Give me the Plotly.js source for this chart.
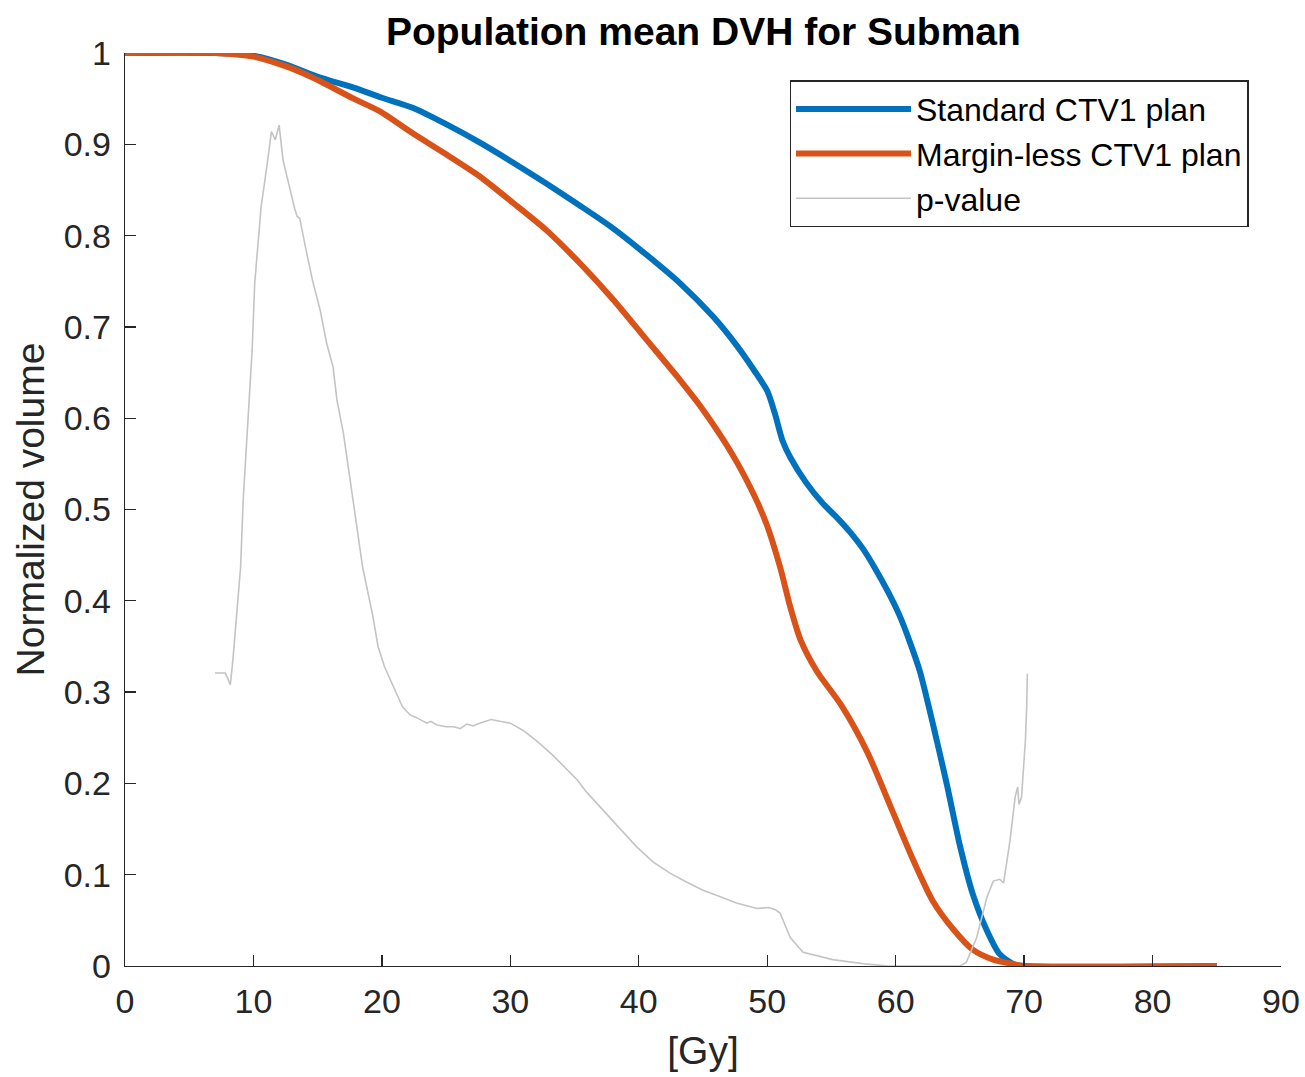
<!DOCTYPE html>
<html>
<head>
<meta charset="utf-8">
<script src="https://cdn.plot.ly/plotly-3.0.1.min.js"></script>
<style>
  html, body { margin: 0; padding: 0; background: #ffffff; }
  #chart { width: 1305px; height: 1077px; }
</style>
</head>
<body>
<div id="chart"></div>
<script>
// ---- data ----
var doseStandard = [0, 7, 10, 12.6, 15.2, 17.8, 20, 22.4, 25, 27.6, 30.2, 32.8, 35.4, 38, 40.6, 43.2, 45.8, 47.6, 49, 50, 50.6, 51.2, 51.8, 53, 54.3, 55.3, 56.4, 57.5, 58.5, 59.4, 60.3, 61.1, 61.9, 62.9, 64, 65, 66, 67.1, 68.1, 69.2, 70, 85];
var volStandard  = [1, 1, 0.997, 0.987, 0.973, 0.962, 0.951, 0.940, 0.922, 0.902, 0.880, 0.857, 0.833, 0.808, 0.779, 0.748, 0.711, 0.680, 0.652, 0.630, 0.605, 0.575, 0.557, 0.530, 0.507, 0.493, 0.476, 0.456, 0.433, 0.410, 0.384, 0.355, 0.322, 0.265, 0.198, 0.132, 0.079, 0.039, 0.013, 0.002, 0, 0];

var doseMarginless = [0, 7, 10, 12.6, 14, 15.2, 17.8, 19.85, 22.4, 25, 27.6, 30.2, 32.8, 35.4, 38, 40.6, 43.2, 44.8, 47.3, 49, 50, 51, 51.8, 52.6, 53.9, 55.7, 57.8, 59.8, 61.4, 62.9, 64.5, 66, 67.6, 69.2, 70, 85];
var volMarginless  = [1, 1, 0.996, 0.985, 0.977, 0.969, 0.950, 0.936, 0.912, 0.889, 0.865, 0.836, 0.806, 0.770, 0.730, 0.686, 0.642, 0.613, 0.560, 0.515, 0.482, 0.437, 0.393, 0.357, 0.322, 0.287, 0.234, 0.168, 0.115, 0.071, 0.040, 0.018, 0.007, 0.002, 0, 0];

var dosePValue = [7.0, 7.8, 8.0, 8.2, 8.4, 8.7, 9.0, 9.2, 9.5, 9.7, 9.9, 10.1, 10.4, 10.6, 10.9, 11.2, 11.4, 11.7, 11.9, 12.0, 12.3, 12.85, 13.2, 13.4, 13.6, 14.1, 14.6, 15.2, 15.7, 16.2, 16.5, 17.0, 17.9, 18.5, 19.3, 19.7, 20.2, 20.9, 21.6, 22.2, 22.7, 23.5, 23.8, 24.3, 25.0, 25.6, 26.1, 26.6, 27.1, 27.6, 28.0, 28.5, 29.2, 30.0, 31.0, 32.0, 33.3, 34.6, 35.2, 35.9, 37.2, 38.5, 39.8, 41.1, 42.4, 43.7, 45.0, 46.3, 47.6, 49.2, 50.1, 50.6, 51.0, 51.8, 52.8, 55.1, 57.8, 59.4, 65.0, 65.5, 66.3, 67.1, 67.6, 68.1, 68.4, 68.9, 69.3, 69.5, 69.6, 69.8, 70.1, 70.2, 70.25];
var pValue     = [0.321, 0.321, 0.315, 0.308, 0.335, 0.383, 0.437, 0.51, 0.584, 0.62, 0.675, 0.748, 0.803, 0.832, 0.861, 0.895, 0.914, 0.905, 0.918, 0.921, 0.883, 0.85, 0.83, 0.821, 0.819, 0.784, 0.751, 0.718, 0.682, 0.656, 0.62, 0.584, 0.499, 0.437, 0.383, 0.35, 0.328, 0.306, 0.284, 0.275, 0.272, 0.266, 0.268, 0.264, 0.262, 0.262, 0.260, 0.265, 0.263, 0.266, 0.268, 0.27, 0.268, 0.266, 0.258, 0.247, 0.231, 0.213, 0.204, 0.191, 0.171, 0.151, 0.131, 0.114, 0.102, 0.092, 0.083, 0.076, 0.069, 0.063, 0.064, 0.062, 0.058, 0.031, 0.015, 0.007, 0.002, 0, 0, 0.004, 0.031, 0.075, 0.093, 0.095, 0.091, 0.137, 0.185, 0.196, 0.177, 0.185, 0.247, 0.283, 0.320];

var seriesNames = ['Standard CTV1 plan', 'Margin-less CTV1 plan', 'p-value'];
var xTickValues = [0, 10, 20, 30, 40, 50, 60, 70, 80, 90];
var yTickValues = [0, 0.1, 0.2, 0.3, 0.4, 0.5, 0.6, 0.7, 0.8, 0.9, 1];
var chartTitle = 'Population mean DVH for Subman';
var xLabel = '[Gy]';
var yLabel = 'Normalized volume';

var FONT = 'Liberation Sans, Arial, Helvetica, sans-serif';
var AXC = '#262626';

var traces = [
  { x: doseStandard, y: volStandard, name: seriesNames[0], type: 'scatter', mode: 'lines',
    line: { color: '#0072BD', width: 6, shape: 'spline', smoothing: 0.7 }, cliponaxis: false },
  { x: doseMarginless, y: volMarginless, name: seriesNames[1], type: 'scatter', mode: 'lines',
    line: { color: '#D95319', width: 6, shape: 'spline', smoothing: 0.7 }, cliponaxis: false },
  { x: dosePValue, y: pValue, name: seriesNames[2], type: 'scatter', mode: 'lines',
    line: { color: '#c4c4c4', width: 1.6 }, cliponaxis: false }
];

var axisCommon = {
  ticks: 'inside', ticklen: 11, tickwidth: 1.3, tickcolor: AXC,
  showline: true, linecolor: AXC, linewidth: 1.3, mirror: false,
  showgrid: false, zeroline: false,
  tickfont: { family: FONT, size: 34, color: AXC },
  automargin: false
};

var layout = {
  width: 1305, height: 1077,
  paper_bgcolor: '#ffffff', plot_bgcolor: '#ffffff',
  margin: { l: 125, r: 24, t: 53, b: 111 },
  font: { family: FONT, color: AXC },
  title: {
    text: '<b>' + chartTitle + '</b>',
    font: { family: FONT, size: 39, color: '#000000' },
    x: 0.539, xref: 'container', xanchor: 'center',
    y: 1 - 31 / 1077, yref: 'container', yanchor: 'middle'
  },
  xaxis: Object.assign({}, axisCommon, {
    range: [0, 90], tickmode: 'array', tickvals: xTickValues,
    ticklabelstandoff: 5,
    title: { text: xLabel, font: { family: FONT, size: 39, color: AXC }, standoff: 17 }
  }),
  yaxis: Object.assign({}, axisCommon, {
    range: [0, 1], tickmode: 'array', tickvals: yTickValues,
    ticklabelstandoff: 6,
    title: { text: yLabel, font: { family: FONT, size: 39, color: AXC }, standoff: 7 }
  }),
  showlegend: true,
  legend: {
    x: 0.575, y: 0.97, xanchor: 'left', yanchor: 'top',
    bgcolor: '#ffffff', bordercolor: AXC, borderwidth: 1.3,
    font: { family: FONT, size: 32, color: '#000000' },
    itemwidth: 115, tracegroupgap: 0
  }
};

Plotly.newPlot('chart', traces, layout, { displayModeBar: false, staticPlot: true });
</script>
</body>
</html>
